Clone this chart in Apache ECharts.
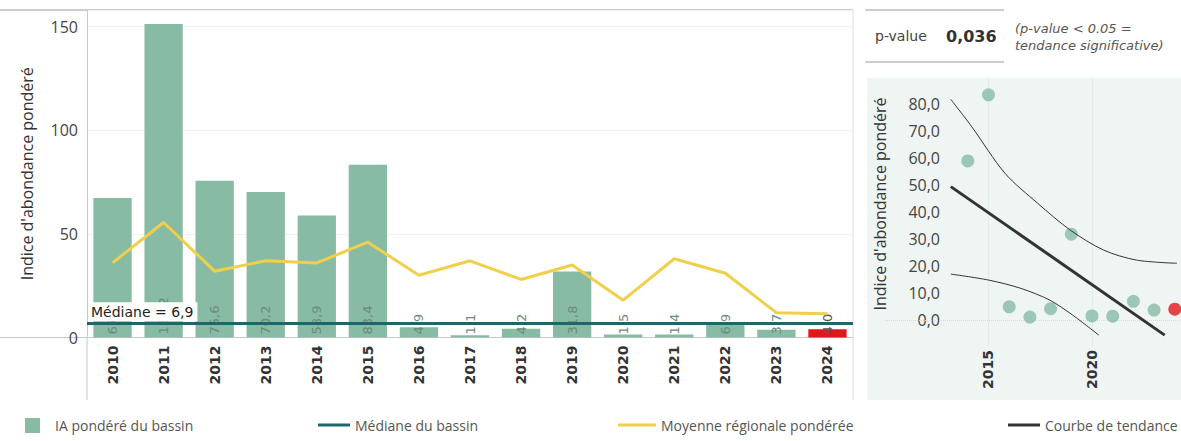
<!DOCTYPE html>
<html><head><meta charset="utf-8">
<script src="https://cdn.jsdelivr.net/npm/echarts@6/dist/echarts.min.js"></script>
<style>html,body{margin:0;padding:0;background:#fff}#c{width:1181px;height:441px}</style>
</head><body><div id="c"></div>
<script>
// ---- data ----
const years = ['2010','2011','2012','2013','2014','2015','2016','2017','2018','2019','2020','2021','2022','2023','2024'];
const iaValues = [67.3,151.2,75.6,70.2,58.9,83.4,4.9,1.1,4.2,31.8,1.5,1.4,6.9,3.7,4.0];
const moyenneValues = [36,55.5,32,37,36,46,30,37,28,35,18,38,31,12,11.5];
const medianValue = 6.9;
const pValueText = '0,036';
const trendStartYear = 2014;
const trendLine = [[2013.18,49.4],[2023.51,-5.6]];
const upperBand = [[2013.18,81.7],[2014.19,71.6],[2015.8,54.3],[2017.38,43.2],[2018.95,33.3],[2020.56,25.9],[2022.14,22.2],[2024.1,21.0]];
const lowerBand = [[2013.18,17.0],[2015.0,14.8],[2016.57,11.7],[2017.95,7.4],[2019.05,1.9],[2020.33,-5.6]];
const trendTicks = [2015, 2020];

// ---- styles ----
const GREEN = '#87bba4', RED = '#e0181c', YELLOW = '#f0cf4a', TEAL = '#1d676c', DARK = '#333';
const fmt = v => Number(v).toFixed(1).replace('.', ',');
const last = years.length - 1;

const barData = iaValues.map((v, i) => i === last ? {value: v, itemStyle: {color: RED}, label: {color: '#555'}} : v);
const scatterData = [];
years.forEach((y, i) => {
  const yr = parseInt(y, 10);
  if (yr >= trendStartYear) {
    scatterData.push(i === last ? {value: [yr, iaValues[i]], itemStyle: {color: RED}} : [yr, iaValues[i]]);
  }
});

const chart = echarts.init(document.getElementById('c'), null, {renderer: 'svg'});
const legendText = {fontSize: 14, color: '#555', fontFamily: 'Open Sans'};
chart.setOption({
  animation: false,
  textStyle: {fontFamily: 'Open Sans'},
  grid: [
    {left: 87, right: 328, top: 10, bottom: 103.5},
    {left: 885, width: 300, top: 77, bottom: 94}
  ],
  xAxis: [
    {type: 'category', gridIndex: 0, data: years,
     axisLine: {lineStyle: {color: '#c8c8c8'}}, axisTick: {show: false},
     axisLabel: {rotate: 90, fontWeight: 'bold', fontSize: 14, color: '#333', fontFamily: 'DejaVu Sans', margin: 8}},
    {type: 'value', gridIndex: 1, min: 2010, max: 2024.3, interval: 5,
     axisLine: {show: false}, axisTick: {show: false}, splitLine: {show: false},
     axisLabel: {rotate: 90, fontWeight: 'bold', fontSize: 14, color: '#333', fontFamily: 'DejaVu Sans', margin: 3,
                 showMinLabel: false, showMaxLabel: false, formatter: v => String(v)}}
  ],
  yAxis: [
    {type: 'value', gridIndex: 0, min: 0, max: 158, interval: 50,
     axisLine: {show: true, lineStyle: {color: '#c8c8c8'}}, axisTick: {show: false},
     splitLine: {lineStyle: {color: '#f1f1f1'}},
     axisLabel: {fontSize: 16, color: '#444', margin: 9, showMaxLabel: false},
     name: "Indice d'abondance pondéré", nameLocation: 'middle', nameGap: 52,
     nameTextStyle: {fontSize: 16, color: '#333'}},
    {type: 'value', gridIndex: 1, min: -10, max: 90, interval: 10, offset: -63,
     axisLine: {show: false}, axisTick: {show: false}, splitLine: {show: false},
     axisLabel: {fontSize: 16, color: '#444', margin: 8, showMinLabel: false, showMaxLabel: false, formatter: fmt},
     name: "Indice d'abondance pondéré", nameLocation: 'middle', nameGap: 60,
     nameTextStyle: {fontSize: 16, color: '#333', padding: [0, 0, 0, 16]}}
  ],
  legend: [
    {data: ['IA pondéré du bassin'], left: 20, top: 413, icon: 'rect', itemWidth: 15, itemHeight: 15,
     textStyle: Object.assign({padding: [0, 0, 0, 10]}, legendText)},
    {data: ['Médiane du bassin'], left: 313, top: 413, icon: 'rect', itemWidth: 32, itemHeight: 3, textStyle: legendText},
    {data: ['Moyenne régionale pondérée'], left: 613, top: 413, icon: 'rect', itemWidth: 38, itemHeight: 3, textStyle: legendText},
    {data: ['Courbe de tendance'], left: 1003, top: 413, icon: 'rect', itemWidth: 32, itemHeight: 3, textStyle: legendText}
  ],
  graphic: {elements: [
    {type: 'rect', shape: {x: 867, y: 78, width: 314, height: 322}, style: {fill: '#eef5f3'}, z: -10},
    {type: 'line', shape: {x1: 0, y1: 10, x2: 853, y2: 10}, style: {stroke: '#bdbdbd', lineWidth: 1.5}},
    {type: 'line', shape: {x1: 87, y1: 337, x2: 87, y2: 400}, style: {stroke: '#c8c8c8', lineWidth: 1}},
    {type: 'line', shape: {x1: 0, y1: 337.5, x2: 87, y2: 337.5}, style: {stroke: '#c8c8c8', lineWidth: 1}},
    {type: 'line', shape: {x1: 853, y1: 10, x2: 853, y2: 400}, style: {stroke: '#dcdcdc', lineWidth: 1}},
    {type: 'line', shape: {x1: 865, y1: 10, x2: 1004, y2: 10}, style: {stroke: '#bdbdbd', lineWidth: 1.5}},
    {type: 'line', shape: {x1: 865, y1: 62, x2: 1004, y2: 62}, style: {stroke: '#bdbdbd', lineWidth: 1.5}},
    {type: 'text', x: 875, y: 36, style: {text: 'p-value', fontSize: 14, fill: '#444', fontFamily: 'DejaVu Sans', verticalAlign: 'middle'}},
    {type: 'text', x: 946, y: 36, style: {text: pValueText, fontSize: 16, fontWeight: 'bold', fill: '#333', fontFamily: 'DejaVu Sans', verticalAlign: 'middle'}},
    {type: 'text', x: 1015, y: 28, style: {text: '(p-value < 0.05 =', fontSize: 13, fontStyle: 'italic', fill: '#555', fontFamily: 'DejaVu Sans', verticalAlign: 'middle'}},
    {type: 'text', x: 1015, y: 45, style: {text: 'tendance significative)', fontSize: 13, fontStyle: 'italic', fill: '#555', fontFamily: 'DejaVu Sans', verticalAlign: 'middle'}}
  ]},
  series: [
    {type: 'bar', name: 'IA pondéré du bassin', xAxisIndex: 0, yAxisIndex: 0, data: barData,
     barCategoryGap: '25%', itemStyle: {color: GREEN},
     label: {show: true, position: 'insideBottom', rotate: 90, align: 'left', verticalAlign: 'middle', distance: 3,
             formatter: p => fmt(p.value), fontSize: 13, color: '#6d8a7e', fontFamily: 'DejaVu Sans'}},
    {type: 'line', name: 'Moyenne régionale pondérée', xAxisIndex: 0, yAxisIndex: 0, data: moyenneValues,
     symbol: 'none', lineStyle: {color: YELLOW, width: 3}, itemStyle: {color: YELLOW}, z: 4},
    {type: 'line', name: 'Médiane du bassin', xAxisIndex: 0, yAxisIndex: 0, data: [],
     symbol: 'none', lineStyle: {color: TEAL, width: 3}, itemStyle: {color: TEAL}, z: 5,
     markLine: {silent: true, symbol: 'none', data: [{yAxis: medianValue}],
       lineStyle: {color: TEAL, width: 3, type: 'solid'},
       label: {position: 'insideStartTop', formatter: 'Médiane = ' + fmt(medianValue), backgroundColor: '#fff',
               padding: [3, 4, 2, 2], distance: 2, color: '#222', fontSize: 14, fontFamily: 'DejaVu Sans'}}},
    {type: 'line', name: 'grille', xAxisIndex: 1, yAxisIndex: 1, data: [], z: 1,
     markLine: {silent: true, symbol: 'none', label: {show: false}, z: 1,
       data: [{yAxis: 0, lineStyle: {color: '#d2dcda', type: 'dotted', width: 1}}]
         .concat(trendTicks.map(t => ({xAxis: t, lineStyle: {color: '#e2ebe9', type: 'solid', width: 1}})))}},
    {type: 'scatter', name: 'IA', xAxisIndex: 1, yAxisIndex: 1, data: scatterData, symbolSize: 13,
     itemStyle: {color: GREEN}, z: 3},
    {type: 'line', name: 'Courbe de tendance', xAxisIndex: 1, yAxisIndex: 1, data: trendLine,
     symbol: 'none', lineStyle: {color: DARK, width: 3}, itemStyle: {color: DARK}, z: 4},
    {type: 'line', name: 'IC sup', xAxisIndex: 1, yAxisIndex: 1, data: upperBand, smooth: 0.3,
     symbol: 'none', lineStyle: {color: DARK, width: 1}, z: 4},
    {type: 'line', name: 'IC inf', xAxisIndex: 1, yAxisIndex: 1, data: lowerBand, smooth: 0.3,
     symbol: 'none', lineStyle: {color: DARK, width: 1}, z: 4}
  ]
});
</script></body></html>
